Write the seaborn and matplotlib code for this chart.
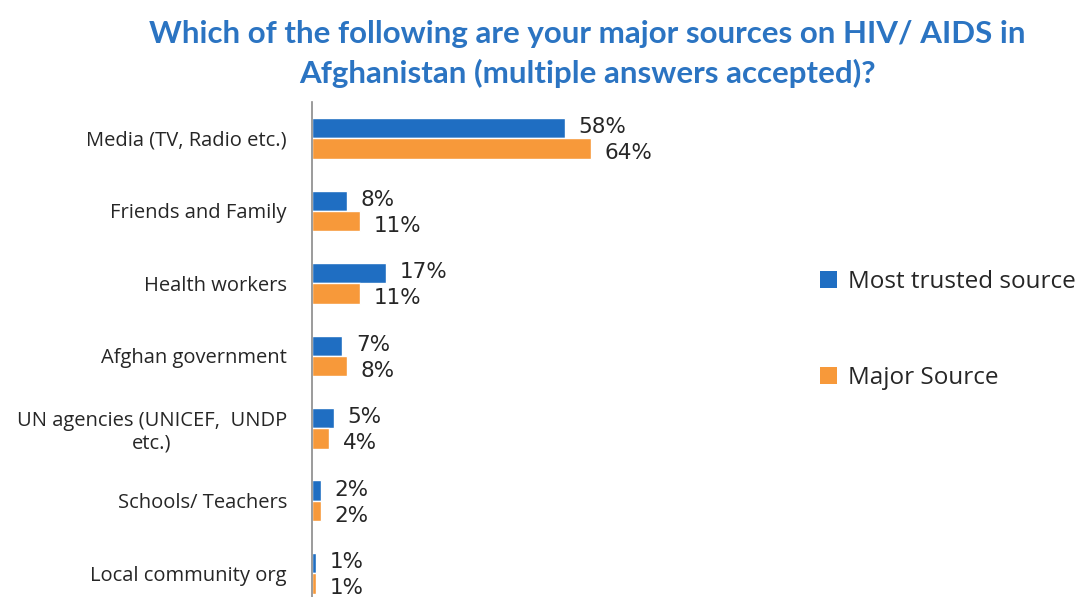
import numpy as np
import pandas as pd
import matplotlib
matplotlib.use("Agg")
import matplotlib.pyplot as plt
import seaborn as sns
from matplotlib.patches import Patch

categories = [
    "Media (TV, Radio etc.)",
    "Friends and Family",
    "Health workers",
    "Afghan government",
    "UN agencies (UNICEF,  UNDP\netc.)",
    "Schools/ Teachers",
    "Local community org",
]
most_trusted = [58, 8, 17, 7, 5, 2, 1]
major_source = [64, 11, 11, 8, 4, 2, 1]
series_names = ["Most trusted source", "Major Source"]
title_text = ("Which of the following are your major sources on HIV/ AIDS in\n"
              "Afghanistan (multiple answers accepted)?")

blue = "#1F6EC2"
orange = "#F7993A"
text_color = "#262626"

df = pd.DataFrame({
    "source": categories * 2,
    "value": most_trusted + major_source,
    "series": [series_names[0]] * len(categories) + [series_names[1]] * len(categories),
})

sns.set_style("white")
plt.rcParams["font.family"] = ["Open Sans", "DejaVu Sans"]

fig = plt.figure(figsize=(10.83, 5.97), dpi=100)
ax = fig.add_axes([0.288, -0.021, 0.322, 0.850])

sns.barplot(data=df, y="source", x="value", hue="series", orient="h",
            palette=[blue, orange], width=0.56, saturation=1,
            order=categories, hue_order=series_names, ax=ax, legend=False)

ax.set_xlim(0, 80)
ax.set_ylim(6.5, -0.5)
ax.set_xlabel("")
ax.set_ylabel("")
ax.set_xticks([])

for side in ["top", "right", "bottom"]:
    ax.spines[side].set_visible(False)
ax.spines["left"].set_color("#8a8a8a")
ax.spines["left"].set_linewidth(1.2)

ax.set_yticks(np.arange(len(categories)))
ax.set_yticklabels(categories, fontsize=14.5, color=text_color)
ax.set_yticks(np.arange(-0.5, len(categories) + 0.5, 1), minor=True)
ax.tick_params(axis="y", which="major", length=0, pad=18)
ax.tick_params(axis="y", which="minor", length=5, width=1, color="#8a8a8a",
               direction="out")
for lbl in ax.get_yticklabels():
    lbl.set_multialignment("center")

# value labels; the lower series' labels sit a little below their bars
label_pad = 10
for i, container in enumerate(ax.containers):
    texts = ax.bar_label(container,
                         labels=[f"{int(v)}%" for v in container.datavalues],
                         padding=label_pad, fontsize=15.5, color=text_color,
                         family=["DejaVu Sans"])
    dy = 0.7 if i == 0 else -3.6
    for t in texts:
        t.xyann = (label_pad, dy)

fig.text(0.542, 0.966, title_text, ha="center", va="top", fontsize=22.5,
         fontweight="bold", color="#2B74C2", linespacing=1.42,
         family=["Lato", "DejaVu Sans"])

handles = [Patch(facecolor=blue, edgecolor="none"),
           Patch(facecolor=orange, edgecolor="none")]
fig.legend(handles, series_names, loc="upper left", bbox_to_anchor=(0.737, 0.585),
           frameon=False, fontsize=17.5, handlelength=0.7, handleheight=0.7,
           handletextpad=0.45, labelspacing=2.98, labelcolor=text_color)

fig.savefig("out.png", dpi=100, facecolor="white")
